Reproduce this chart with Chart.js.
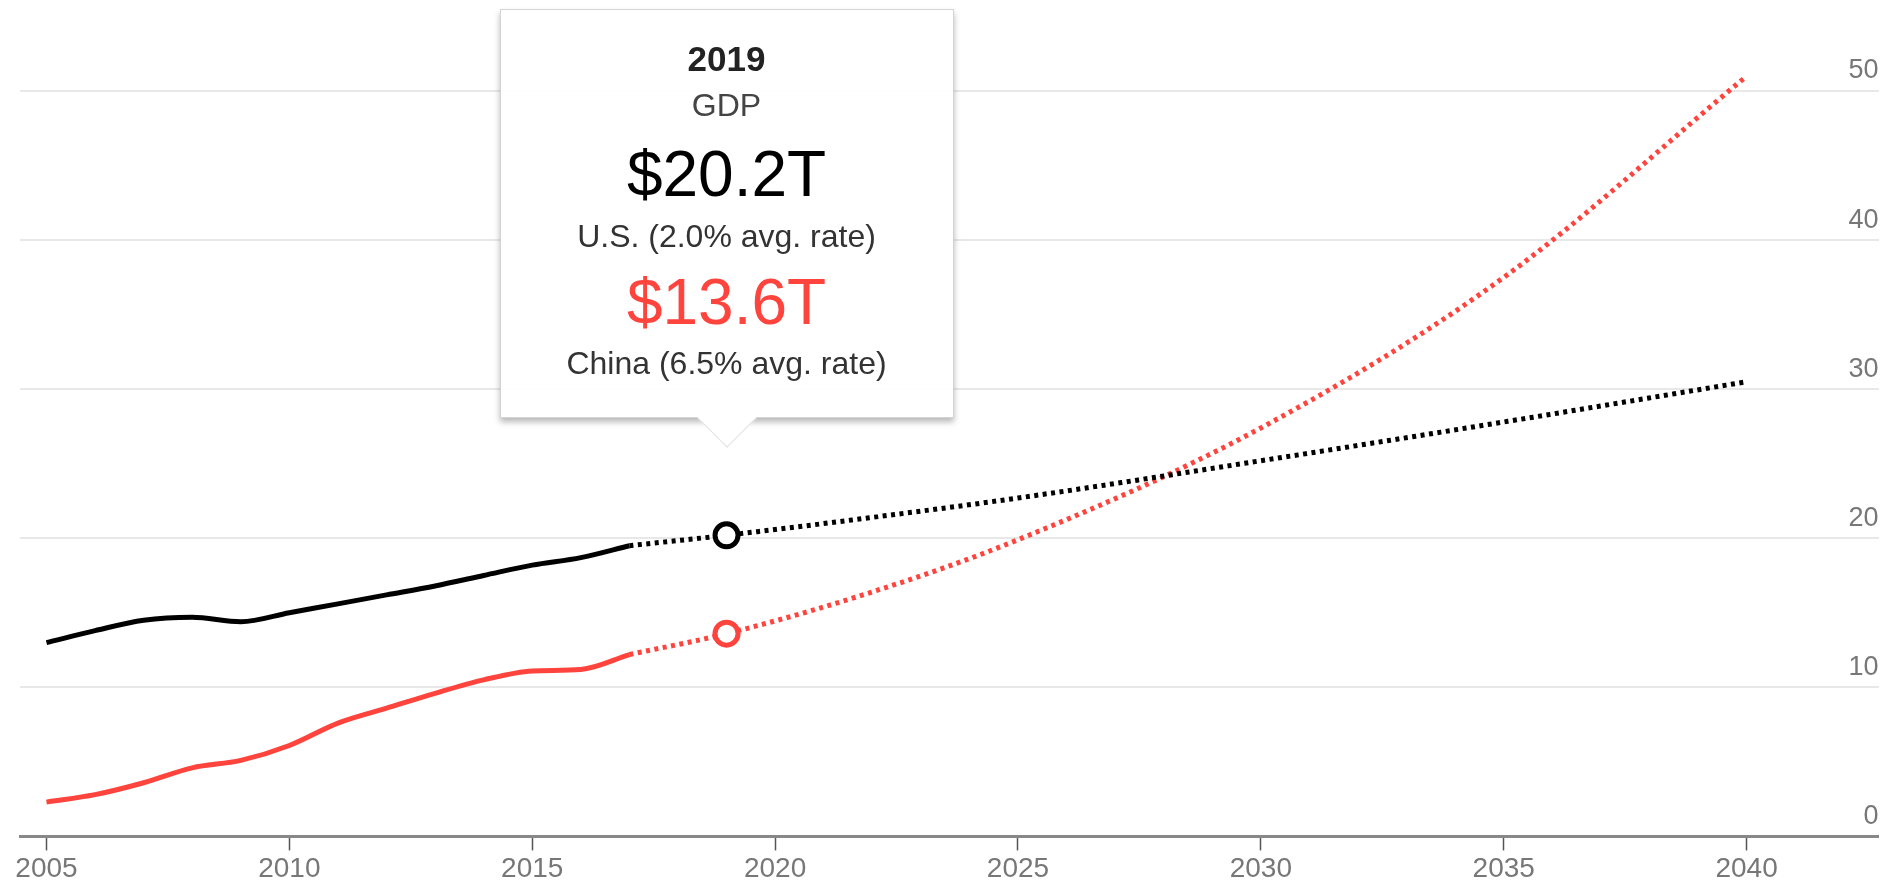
<!DOCTYPE html>
<html>
<head>
<meta charset="utf-8">
<script src="https://cdn.jsdelivr.net/npm/chart.js@4"></script>
<style>
  body { margin: 0; background: #fff; }
  #wrap { position: relative; width: 1895px; height: 888px; font-family: "Liberation Sans", Arial, sans-serif; }
  #tip {
    position: absolute; width: 454px; height: 409px; box-sizing: border-box;
    background: rgba(255,255,255,0.96); border: 1.5px solid #d4d4d4;
    box-shadow: 0 4px 6px rgba(0,0,0,0.28); text-align: center;
  }
  #tip div.line { position: absolute; left: 0; right: 0; white-space: nowrap; }
  #tip .arrow {
    position: absolute; width: 41px; height: 41px; left: 205px; bottom: -22px;
    background: #fff; border-right: 1.5px solid #e2e2e2; border-bottom: 1.5px solid #e2e2e2;
    transform: rotate(45deg);
  }
</style>
</head>
<body>
<div id="wrap">
  <canvas id="gdpChart" width="1895" height="888"></canvas>
  <div id="tip"></div>
</div>
<script>
// historical GDP, trillions of dollars
let years = [2005, 2006, 2007, 2008, 2009, 2010, 2011, 2012, 2013, 2014, 2015, 2016, 2017];
let usGdp = [13.0, 13.8, 14.5, 14.7, 14.4, 15.0, 15.6, 16.2, 16.8, 17.5, 18.2, 18.7, 19.5];
let chinaGdp = [2.3, 2.8, 3.6, 4.6, 5.1, 6.1, 7.6, 8.6, 9.6, 10.5, 11.1, 11.2, 12.2];

// projections (dotted)
let projYears = [2017, 2019, 2022, 2025, 2030, 2035, 2040];
let usProj = [19.5, 20.2, 21.4, 22.7, 25.2, 27.8, 30.5];
let chinaProj = [12.2, 13.6, 16.4, 19.9, 27.4, 37.5, 51.0];

let xTicks = [2005, 2010, 2015, 2020, 2025, 2030, 2035, 2040];
let yTicks = [0, 10, 20, 30, 40, 50];

let tipYear = 2019;
let usRate = '2.0%';
let chinaRate = '6.5%';

const RED = '#ff433d';

let pts = (xs, ys) => xs.map((x, i) => ({ x: x, y: ys[i] }));
let tipIdx = projYears.indexOf(tipYear);

// tooltip box, built from the arrays
let tip = document.getElementById('tip');
let tipLines = [
  { text: String(tipYear), size: 35, top: 31, color: '#222', weight: 'bold' },
  { text: 'GDP', size: 32, top: 79, color: '#444' },
  { text: '$' + usProj[tipIdx].toFixed(1) + 'T', size: 64, top: 132, color: '#000' },
  { text: 'U.S. (' + usRate + ' avg. rate)', size: 32, top: 210, color: '#333' },
  { text: '$' + chinaProj[tipIdx].toFixed(1) + 'T', size: 64, top: 260, color: RED },
  { text: 'China (' + chinaRate + ' avg. rate)', size: 32, top: 337, color: '#333' }
];
tipLines.forEach(l => {
  let d = document.createElement('div');
  d.className = 'line';
  d.textContent = l.text;
  d.style.top = l.top + 'px';
  d.style.fontSize = l.size + 'px';
  d.style.lineHeight = l.size + 'px';
  d.style.color = l.color;
  d.style.fontWeight = l.weight || 'normal';
  tip.appendChild(d);
});
let arrow = document.createElement('div');
arrow.className = 'arrow';
tip.appendChild(arrow);

// place the box over the 2019 point
let tipPlugin = {
  id: 'tipPlugin',
  afterDraw(chart) {
    let px = chart.scales.x.getPixelForValue(tipYear);
    let py = chart.scales.y.getPixelForValue(usProj[tipIdx]);
    let tipY = py - 85;
    tip.style.left = (px - 227) + 'px';
    tip.style.top = (tipY - 32 - 409) + 'px';
  }
};

let ctx = document.getElementById('gdpChart').getContext('2d');

let myChart = new Chart(ctx, {
  type: 'line',
  data: {
    datasets: [
      {
        label: 'U.S. 2019',
        data: pts([tipYear], [usProj[tipIdx]]),
        showLine: false,
        pointRadius: 11.5,
        pointBorderWidth: 5,
        pointBackgroundColor: '#fff',
        pointBorderColor: '#000'
      },
      {
        label: 'China 2019',
        data: pts([tipYear], [chinaProj[tipIdx]]),
        showLine: false,
        pointRadius: 11.5,
        pointBorderWidth: 5,
        pointBackgroundColor: '#fff',
        pointBorderColor: RED
      },
      {
        label: 'U.S.',
        data: pts(years, usGdp),
        borderColor: '#000',
        borderWidth: 5,
        pointRadius: 0,
        cubicInterpolationMode: 'monotone'
      },
      {
        label: 'China',
        data: pts(years, chinaGdp),
        borderColor: RED,
        borderWidth: 5,
        pointRadius: 0,
        cubicInterpolationMode: 'monotone'
      },
      {
        label: 'U.S. projection',
        data: pts(projYears, usProj),
        borderColor: '#000',
        borderWidth: 5,
        borderDash: [4, 4.5],
        pointRadius: 0,
        cubicInterpolationMode: 'monotone'
      },
      {
        label: 'China projection',
        data: pts(projYears, chinaProj),
        borderColor: RED,
        borderWidth: 5,
        borderDash: [4, 4.5],
        pointRadius: 0,
        cubicInterpolationMode: 'monotone'
      }
    ]
  },
  options: {
    responsive: false,
    animation: false,
    events: [],
    layout: { padding: { left: 20, right: 15, top: 14, bottom: 0 } },
    plugins: { legend: { display: false }, tooltip: { enabled: false } },
    scales: {
      x: {
        type: 'linear',
        min: 2004.455,
        max: 2042.715,
        afterBuildTicks: axis => { axis.ticks = xTicks.map(v => ({ value: v })); },
        ticks: {
          color: '#777',
          font: { family: '"Liberation Sans", Arial, sans-serif', size: 28 },
          padding: 2,
          maxRotation: 0,
          callback: v => String(v)
        },
        grid: { drawOnChartArea: false, drawTicks: true, tickLength: 14, tickColor: '#555', tickWidth: 1.5 },
        border: { display: true, color: '#888', width: 3 }
      },
      y: {
        position: 'right',
        min: 0,
        max: 55,
        afterBuildTicks: axis => { axis.ticks = yTicks.map(v => ({ value: v })); },
        ticks: {
          mirror: true,
          padding: 0,
          labelOffset: -20,
          color: '#777',
          font: { family: '"Liberation Sans", Arial, sans-serif', size: 27 }
        },
        grid: { color: '#e8e8e8', lineWidth: 2, drawTicks: false },
        border: { display: false }
      }
    }
  },
  plugins: [tipPlugin]
});
</script>
</body>
</html>
